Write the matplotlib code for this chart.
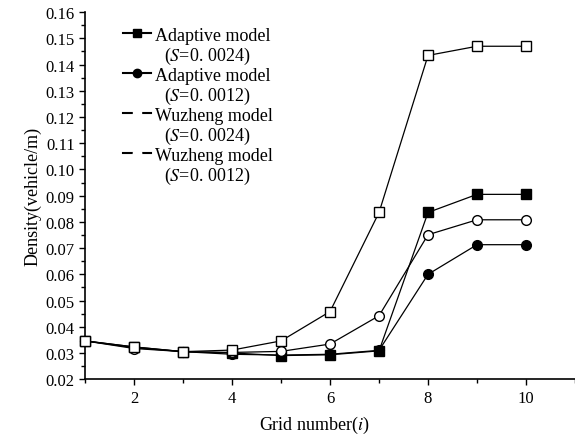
import matplotlib.pyplot as plt
from matplotlib.lines import Line2D
from matplotlib.ticker import MultipleLocator

plt.rcParams['font.family'] = ['Liberation Serif', 'DejaVu Serif']
plt.rcParams['mathtext.fontset'] = 'stix'

grid = [1, 2, 3, 4, 5, 6, 7, 8, 9, 10]
adaptive_24 = [0.0346, 0.0323, 0.0305, 0.0300, 0.0290, 0.0293, 0.0308, 0.0836, 0.0905, 0.0905]
adaptive_12 = [0.0346, 0.0320, 0.0305, 0.0295, 0.0292, 0.0295, 0.0310, 0.0600, 0.0713, 0.0713]
wuzheng_24 = [0.0346, 0.0323, 0.0305, 0.0311, 0.0346, 0.0458, 0.0836, 0.1435, 0.1470, 0.1470]
wuzheng_12 = [0.0346, 0.0317, 0.0305, 0.0302, 0.0306, 0.0334, 0.0442, 0.0751, 0.0808, 0.0808]

labels = ["Adaptive model", "(S=0. 0024)", "Adaptive model", "(S=0. 0012)",
          "Wuzheng model", "(S=0. 0024)", "Wuzheng model", "(S=0. 0012)"]

fig = plt.figure(figsize=(5.75, 4.39), dpi=100)
ax = fig.add_axes([0.148, 0.134, 0.852, 0.836])

style = dict(color='black', lw=0.9, ms=7, clip_on=False)
ax.plot(grid, adaptive_12, marker='o', mfc='black', zorder=3, **style)
ax.plot(grid, adaptive_24, marker='s', mfc='black', zorder=4, **style)
ax.plot(grid, wuzheng_12, marker='o', mfc='white', zorder=5, **style)
ax.plot(grid, wuzheng_24, marker='s', mfc='white', zorder=6, **style)

ax.set_xlim(1, 11)
ax.set_ylim(0.02, 0.16)
ax.xaxis.set_minor_locator(MultipleLocator(1))
ax.yaxis.set_major_locator(MultipleLocator(0.01))
ax.yaxis.set_minor_locator(MultipleLocator(0.005))
ax.yaxis.set_major_formatter(lambda v, p: f"{v:.2f}")
ax.set_xticks([2, 4, 6, 8, 10])
ax.set_xticklabels(["2", "4", "6", "8", "10"])
ax.tick_params(which='major', direction='out', length=4, width=1, labelsize=12)
ax.tick_params(which='minor', direction='out', length=3, width=1)
for s in ['top', 'right']:
    ax.spines[s].set_visible(False)
for s in ['left', 'bottom']:
    ax.spines[s].set_linewidth(1.2)

ax.set_xlabel("Grid number($\\mathit{i}$)", fontsize=13, va='center')
ax.xaxis.set_label_coords(0.467, -0.122)
ax.set_ylabel("Density(vehicle/m)", fontsize=13, labelpad=3)

# legend: handle on the first line of each entry, second line has no handle
blank = Line2D([], [], color='none')
handles = [
    Line2D([], [], color='black', lw=1.5, marker='s', mfc='black', ms=6), blank,
    Line2D([], [], color='black', lw=1.5, marker='o', mfc='black', ms=6), blank,
    Line2D([], [], color='black', lw=1.5, marker='s', mfc='white', mec='white', ms=6), blank,
    Line2D([], [], color='black', lw=1.5, marker='o', mfc='white', mec='white', ms=6), blank,
]
shown = []
for i, t in enumerate(labels):
    if i % 2 == 1:
        t = "  " + t.replace("S", "$\\mathit{S}$")
    shown.append(t)
ax.legend(handles, shown, loc='upper left', bbox_to_anchor=(0.062, 0.98), frameon=False,
          fontsize=13, handlelength=1.55, handletextpad=0.22, labelspacing=0.05,
          borderaxespad=0)

fig.savefig("out.png", dpi=100)
